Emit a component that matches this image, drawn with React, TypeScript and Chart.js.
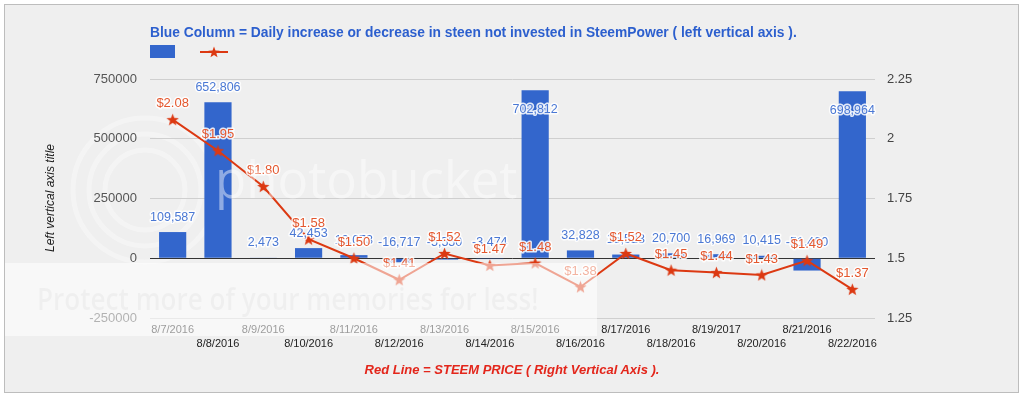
import React, { useEffect, useRef } from 'react';
import { Chart, registerables } from 'chart.js';

Chart.register(...registerables);

// ---- Data ----
const categories = [
  '8/7/2016', '8/8/2016', '8/9/2016', '8/10/2016', '8/11/2016', '8/12/2016',
  '8/13/2016', '8/14/2016', '8/15/2016', '8/16/2016', '8/17/2016', '8/18/2016',
  '8/19/2017', '8/20/2016', '8/21/2016', '8/22/2016',
];
const steemNotInvested = [
  109587, 652806, 2473, 42453, 13073, -16717, -5550, -3474,
  702812, 32828, 15523, 20700, 16969, 10415, -51490, 698964,
];
const steemPrice = [
  2.08, 1.95, 1.8, 1.58, 1.5, 1.41, 1.52, 1.47,
  1.48, 1.38, 1.52, 1.45, 1.44, 1.43, 1.49, 1.37,
];
const leftTicks = [-250000, 0, 250000, 500000, 750000];
const rightTicks = ['1.25', '1.5', '1.75', '2', '2.25'];

const titleText = 'Blue Column = Daily increase or decrease in steen not invested in SteemPower ( left vertical axis ).';
const bottomText = 'Red Line = STEEM PRICE ( Right Vertical Axis ).';
const leftAxisTitle = 'Left vertical axis title';

const BLUE = '#3366cc';
const RED = '#dc3912';
const FONT = '"Liberation Sans", Arial, sans-serif';

function makeStar(size: number, color: string) {
  const c = document.createElement('canvas');
  c.width = size;
  c.height = size;
  const g = c.getContext('2d')!;
  const cx = size / 2, cy = size / 2 + 0.5;
  const R = size / 2, r = R * 0.42;
  g.beginPath();
  for (let i = 0; i < 10; i++) {
    const rad = i % 2 === 0 ? R : r;
    const a = -Math.PI / 2 + (i * Math.PI) / 5;
    const x = cx + rad * Math.cos(a);
    const y = cy + rad * Math.sin(a);
    if (i === 0) g.moveTo(x, y); else g.lineTo(x, y);
  }
  g.closePath();
  g.fillStyle = color;
  g.fill();
  return c;
}

const labelPlugin = {
  id: 'valueLabels',
  afterDatasetsDraw(chart: any) {
    const ctx = chart.ctx;
    const zeroY = chart.scales.y.getPixelForValue(0);
    const barMeta = chart.getDatasetMeta(0);
    const lineMeta = chart.getDatasetMeta(1);
    ctx.save();
    ctx.textAlign = 'center';
    ctx.textBaseline = 'middle';
    ctx.lineJoin = 'round';
    ctx.font = `12.5px ${FONT}`;
    barMeta.data.forEach((el: any, i: number) => {
      const v = steemNotInvested[i];
      let y: number;
      if (v >= 0) {
        y = el.y - 15;
        if (y < chart.chartArea.top + 2) y = el.y + 19;
      } else {
        y = zeroY - 16;
      }
      const text = v.toLocaleString('en-US');
      ctx.strokeStyle = 'rgba(255,255,255,0.85)';
      ctx.lineWidth = 3;
      ctx.strokeText(text, el.x, y);
      ctx.fillStyle = '#4a78d4';
      ctx.fillText(text, el.x, y);
    });
    ctx.font = `13px ${FONT}`;
    lineMeta.data.forEach((el: any, i: number) => {
      const text = '$' + steemPrice[i].toFixed(2);
      const y = el.y - 16;
      ctx.strokeStyle = 'rgba(255,255,255,0.85)';
      ctx.lineWidth = 3;
      ctx.strokeText(text, el.x, y);
      ctx.fillStyle = '#e4572e';
      ctx.fillText(text, el.x, y);
    });
    ctx.restore();
  },
};

export default function App() {
  const canvasRef = useRef<HTMLCanvasElement | null>(null);

  useEffect(() => {
    if (!canvasRef.current) return;
    const star = makeStar(13, RED);
    const chart = new Chart(canvasRef.current, {
      type: 'bar',
      data: {
        labels: categories,
        datasets: [
          {
            type: 'bar',
            label: 'Steem not invested',
            data: steemNotInvested,
            backgroundColor: BLUE,
            borderWidth: 0,
            barPercentage: 0.6,
            categoryPercentage: 1,
            yAxisID: 'y',
            order: 2,
          } as any,
          {
            type: 'line',
            label: 'STEEM price',
            data: steemPrice,
            borderColor: RED,
            backgroundColor: RED,
            borderWidth: 2,
            pointStyle: star,
            pointRadius: 6,
            tension: 0,
            yAxisID: 'y1',
            order: 1,
          } as any,
        ],
      },
      options: {
        responsive: false,
        animation: false,
        layout: { padding: { top: 79, left: 0, right: 0, bottom: 0 } },
        plugins: {
          legend: { display: false },
          title: { display: false },
          tooltip: { enabled: false },
        },
        scales: {
          x: {
            offset: true,
            grid: { display: false },
            border: { display: false },
            ticks: {
              autoSkip: false,
              maxRotation: 0,
              minRotation: 0,
              padding: -3,
              color: '#222',
              font: { family: FONT, size: 11, lineHeight: 14 / 11 },
              callback: (_v: any, i: number) =>
                i % 2 === 0 ? [categories[i], ''] : ['', categories[i]],
            },
            afterFit: (s: any) => { s.height = 80; },
          },
          y: {
            position: 'left',
            min: leftTicks[0],
            max: leftTicks[leftTicks.length - 1],
            afterBuildTicks: (s: any) => { s.ticks = leftTicks.map((v) => ({ value: v })); },
            grid: {
              drawTicks: false,
              color: (c: any) => (c.tick && c.tick.value === 0 ? '#333333' : '#cfcfcf'),
            },
            border: { display: false },
            ticks: {
              padding: 13,
              color: '#555',
              font: { family: FONT, size: 13 },
              callback: (v: any) => String(v),
            },
            afterFit: (s: any) => { s.width = 150; },
          },
          y1: {
            position: 'right',
            min: 1.25,
            max: 2.25,
            afterBuildTicks: (s: any) => { s.ticks = rightTicks.map((v) => ({ value: Number(v) })); },
            grid: { display: false, drawTicks: false },
            border: { display: false },
            ticks: {
              padding: 12,
              color: '#444',
              font: { family: FONT, size: 13 },
              callback: (v: any) => String(v),
            },
            afterFit: (s: any) => { s.width = 149; },
          },
        },
      } as any,
      plugins: [labelPlugin],
    });
    return () => chart.destroy();
  }, []);

  return (
    <div style={{ position: 'absolute', left: 0, top: 0, width: 1024, height: 398, background: '#ffffff', overflow: 'hidden' }}>
      <div
        style={{
          position: 'absolute', left: 4, top: 4, width: 1013, height: 387,
          background: '#efefef', border: '1px solid #bdbdbd',
        }}
      />
      {/* watermark logo */}
      <svg width={1024} height={398} style={{ position: 'absolute', left: 0, top: 0, pointerEvents: 'none' }}>
        <g fill="none" stroke="rgba(255,255,255,0.35)" strokeWidth={5}>
          <circle cx={145} cy={190} r={72} />
          <circle cx={145} cy={190} r={56} />
          <circle cx={145} cy={190} r={40} />
        </g>
      </svg>
      <canvas
        ref={canvasRef}
        width={1024}
        height={398}
        style={{ position: 'absolute', left: 0, top: 0, width: 1024, height: 398, display: 'block' }}
      />
      <div
        style={{
          position: 'absolute', left: 215, top: 148, fontFamily: '"Open Sans", sans-serif',
          fontSize: 51, lineHeight: '60px', color: 'rgba(255,255,255,0.45)', whiteSpace: 'nowrap', pointerEvents: 'none',
        }}
      >
        photobucket
      </div>
      {/* title */}
      <div
        style={{
          position: 'absolute', left: 150, top: 25, fontFamily: FONT, fontSize: 13.8, fontWeight: 'bold',
          lineHeight: '16px', color: '#2c5fce', whiteSpace: 'nowrap',
        }}
      >
        {titleText}
      </div>
      {/* legend */}
      <div style={{ position: 'absolute', left: 150, top: 45, width: 25, height: 13, background: BLUE }} />
      <svg width={28} height={14} style={{ position: 'absolute', left: 200, top: 45 }}>
        <line x1={0} y1={7} x2={28} y2={7} stroke={RED} strokeWidth={2} />
        <polygon
          fill={RED}
          points={Array.from({ length: 10 }, (_, i) => {
            const rad = i % 2 === 0 ? 6 : 2.5;
            const a = -Math.PI / 2 + (i * Math.PI) / 5;
            return `${14 + rad * Math.cos(a)},${7.5 + rad * Math.sin(a)}`;
          }).join(' ')}
        />
      </svg>
      {/* left axis title */}
      <div
        style={{
          position: 'absolute', left: -50, top: 190, width: 200, height: 16, lineHeight: '16px',
          textAlign: 'center', transform: 'rotate(-90deg)', fontFamily: FONT, fontStyle: 'italic',
          fontSize: 12, color: '#222',
        }}
      >
        {leftAxisTitle}
      </div>
      {/* bottom title */}
      <div
        style={{
          position: 'absolute', left: 0, width: 1024, top: 362, lineHeight: '16px', textAlign: 'center',
          fontFamily: FONT, fontSize: 13, fontWeight: 'bold', fontStyle: 'italic', color: '#e3261b',
        }}
      >
        {bottomText}
      </div>
      {/* watermark band */}
      <div
        style={{
          position: 'absolute', left: 5, top: 263, width: 592, height: 73,
          background: 'rgba(255,255,255,0.55)', pointerEvents: 'none', overflow: 'hidden',
        }}
      >
        <div
          style={{
            position: 'absolute', left: 32, top: 14, fontFamily: '"Open Sans", sans-serif', fontSize: 30,
            fontWeight: 600, lineHeight: '44px', color: 'rgba(0,0,0,0.035)', whiteSpace: 'nowrap',
            transform: 'scaleX(0.87)', transformOrigin: 'left center',
          }}
        >
          Protect more of your memories for less!
        </div>
      </div>
    </div>
  );
}
